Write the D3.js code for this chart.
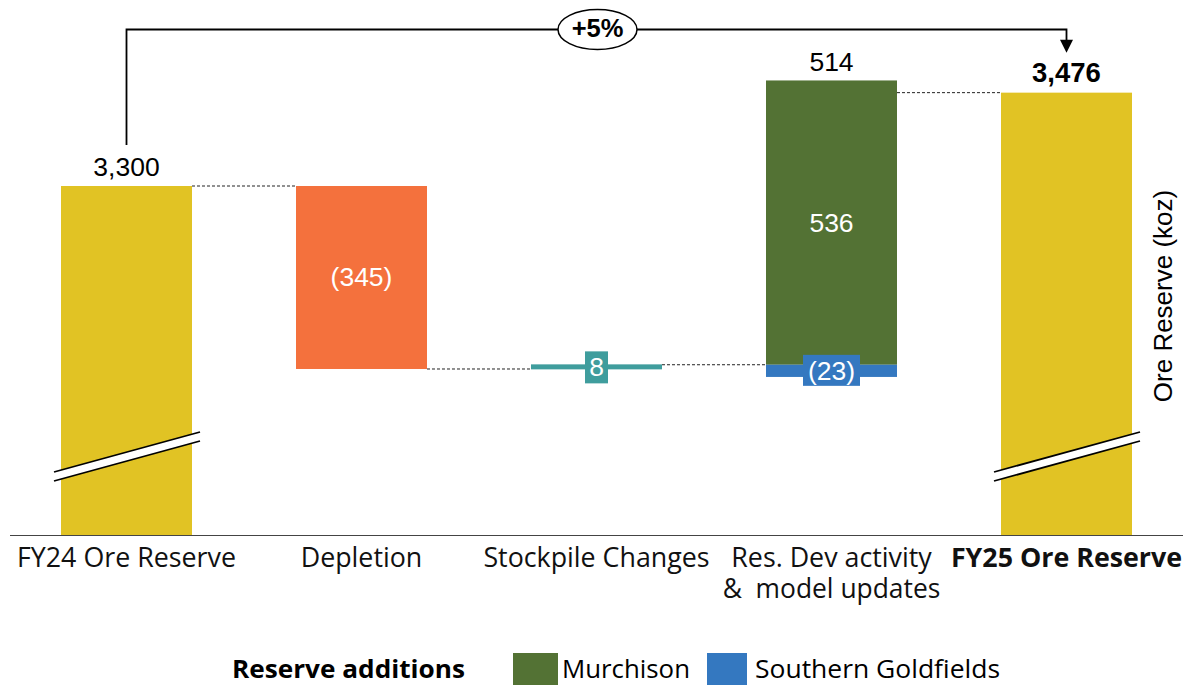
<!DOCTYPE html>
<html><head><meta charset="utf-8">
<script src="https://cdn.jsdelivr.net/npm/d3@7"></script>
<style>body{margin:0;background:#fff}svg{display:block}</style>
</head><body>
<svg id="c" width="1192" height="686"></svg>
<script>
const categories = ["FY24 Ore Reserve", "Depletion", "Stockpile Changes", "Res. Dev activity\n&  model updates", "FY25 Ore Reserve"];
const startTotal = 3300;
const depletion = -345;
const stockpile = 8;
const murchison = 536;
const southern = -23;
const netResDev = 514;
const endTotal = 3476;
const changeLabel = "+5%";
const legendTitle = "Reserve additions";
const legendNames = ["Murchison", "Southern Goldfields"];
const yAxisTitle = "Ore Reserve (koz)";

const C = {yellow:"#E1C324", orange:"#F4713D", teal:"#3F9D9D", green:"#537234", blue:"#3478C0"};
const numFont = "Liberation Sans, Arial, sans-serif";
const txtFont = "Open Sans, sans-serif";
const NS = 26.5;

const svg = d3.select("#c");
const x = d3.scaleBand().domain(categories).range([9, 1184]).paddingInner(0.4426).paddingOuter(0.2213);
const y = d3.scaleLinear().domain([2642, 3300]).range([535, 186]);
const bw = x.bandwidth();

const afterDep = startTotal + depletion;
const afterStock = afterDep + stockpile;

// bars
const bars = [
  {c:categories[0], y0:2642, y1:startTotal, color:C.yellow},
  {c:categories[1], y0:afterDep, y1:startTotal, color:C.orange},
  {c:categories[3], y0:afterStock, y1:afterStock+murchison, color:C.green},
  {c:categories[3], y0:afterStock+southern, y1:afterStock, color:C.blue},
  {c:categories[4], y0:2642, y1:endTotal, color:C.yellow}
];
svg.selectAll("rect.bar").data(bars).join("rect").attr("class","bar")
  .attr("x", d=>x(d.c)).attr("width", bw)
  .attr("y", d=>y(d.y1)).attr("height", d=>y(d.y0)-y(d.y1))
  .attr("fill", d=>d.color);

// stockpile line
const sy = y(afterDep + stockpile/2);
svg.append("rect").attr("x", x(categories[2])).attr("width", bw)
  .attr("y", sy-2.5).attr("height", 5).attr("fill", C.teal);

// connectors
const conns = [
  [0,1,y(startTotal)],
  [1,2,y(afterDep)],
  [2,3,y(afterStock)],
  [3,4,y(endTotal)]
];
svg.selectAll("line.conn").data(conns).join("line").attr("class","conn")
  .attr("x1", d=>x(categories[d[0]])+bw).attr("x2", d=>x(categories[d[1]]))
  .attr("y1", d=>d[2]).attr("y2", d=>d[2])
  .attr("stroke","#222").attr("stroke-width",1).attr("stroke-dasharray","3,2");

// axis baseline
svg.append("line").attr("x1",10).attr("x2",1183).attr("y1",y(2642)+0.5).attr("y2",y(2642)+0.5)
  .attr("stroke","#444").attr("stroke-width",1.2);

// break marks
[categories[0], categories[4]].forEach(c=>{
  const xl = x(c)-7, xr = x(c)+bw+8;
  const yl = 472, yr = 432;
  svg.append("path").attr("d",`M${xl},${yl}L${xr},${yr}L${xr},${yr+9}L${xl},${yl+9}Z`).attr("fill","#fff");
  svg.append("line").attr("x1",xl).attr("y1",yl).attr("x2",xr).attr("y2",yr).attr("stroke","#000").attr("stroke-width",1.8);
  svg.append("line").attr("x1",xl).attr("y1",yl+9).attr("x2",xr).attr("y2",yr+9).attr("stroke","#000").attr("stroke-width",1.8);
});

const cx = c => x(c)+bw/2;
const fmt = d3.format(",");
const paren = v => v<0 ? `(${fmt(-v)})` : fmt(v);

// value labels
svg.append("text").attr("x",cx(categories[0])).attr("y",y(startTotal)-10).attr("text-anchor","middle")
  .attr("font-family",numFont).attr("font-size",NS).text(fmt(startTotal));
svg.append("text").attr("x",cx(categories[1])).attr("y",(y(startTotal)+y(afterDep))/2+9).attr("text-anchor","middle")
  .attr("font-family",numFont).attr("font-size",NS).attr("fill","#fff").text(paren(depletion));
svg.append("text").attr("x",cx(categories[3])).attr("y",y(afterStock+murchison)-9.5).attr("text-anchor","middle")
  .attr("font-family",numFont).attr("font-size",NS).text(fmt(netResDev));
svg.append("text").attr("x",cx(categories[3])).attr("y",(y(afterStock+murchison)+y(afterStock))/2+9).attr("text-anchor","middle")
  .attr("font-family",numFont).attr("font-size",NS).attr("fill","#fff").text(fmt(murchison));
svg.append("text").attr("x",cx(categories[4])).attr("y",y(endTotal)-11).attr("text-anchor","middle")
  .attr("font-family",numFont).attr("font-size",27.5).attr("font-weight","bold").text(fmt(endTotal));

// stockpile label box
svg.append("rect").attr("x",cx(categories[2])-11.5).attr("y",sy-15.5).attr("width",23).attr("height",32).attr("fill",C.teal);
svg.append("text").attr("x",cx(categories[2])).attr("y",sy+9.5).attr("text-anchor","middle")
  .attr("font-family",numFont).attr("font-size",NS).attr("fill","#fff").text(fmt(stockpile));
// southern label box
const by = y(afterStock+southern/2);
svg.append("rect").attr("x",cx(categories[3])-28.5).attr("y",by-16).attr("width",57).attr("height",31).attr("fill",C.blue);
svg.append("text").attr("x",cx(categories[3])).attr("y",by+9).attr("text-anchor","middle")
  .attr("font-family",numFont).attr("font-size",NS).attr("fill","#fff").text(paren(southern));

// category labels
svg.selectAll("g.cat").data(categories).join("g").attr("class","cat").each(function(d,i){
  const lines = d.split("\n");
  lines.forEach((l,j)=>{
    d3.select(this).append("text").attr("text-anchor","middle")
      .attr("font-family",txtFont).attr("font-size",j===0?26.8:26.4).attr("fill","#111")
      .attr("font-weight", i===4 ? "bold" : "normal").style("white-space","pre")
      .attr("x",cx(d)).attr("y",567+j*31).text(l);
  });
});

// change arrow
const ax0 = cx(categories[0]), ax1 = cx(categories[4]), ay = 29.5;
svg.append("path").attr("d",`M${ax0},${y(startTotal)-41}V${ay}H${ax1}V${y(endTotal)-52}`)
  .attr("fill","none").attr("stroke","#000").attr("stroke-width",1.8);
svg.append("path").attr("d",`M${ax1-6.5},${y(endTotal)-53}L${ax1+6.5},${y(endTotal)-53}L${ax1},${y(endTotal)-40}Z`).attr("fill","#000");
svg.append("ellipse").attr("cx",597.5).attr("cy",ay).attr("rx",39.5).attr("ry",20)
  .attr("fill","#fff").attr("stroke","#000").attr("stroke-width",1.5);
svg.append("text").attr("x",597.5).attr("y",ay+7.5).attr("text-anchor","middle")
  .attr("font-family",numFont).attr("font-size",25.5).attr("font-weight","bold").text(changeLabel);

// y axis title
svg.append("text").attr("transform","translate(1172,296) rotate(-90)").attr("text-anchor","middle")
  .attr("font-family",numFont).attr("font-size",26).text(yAxisTitle);

// legend
const lg = svg.append("g");
lg.append("text").attr("x",232).attr("y",678).attr("font-family",txtFont).attr("font-size",25).attr("font-weight","bold")
  .attr("textLength",233).attr("lengthAdjust","spacingAndGlyphs").text(legendTitle);
const lcol = [C.green, C.blue];
const lx = [513, 707];
const lw = [128, 245];
legendNames.forEach((n,i)=>{
  lg.append("rect").attr("x",lx[i]).attr("y",653).attr("width",i===0?45:40).attr("height",32).attr("fill",lcol[i]);
  lg.append("text").attr("x",lx[i]+(i===0?49:48)).attr("y",678).attr("font-family",txtFont).attr("font-size",25)
    .attr("textLength",lw[i]).attr("lengthAdjust","spacingAndGlyphs").text(n);
});
</script>
</body></html>
